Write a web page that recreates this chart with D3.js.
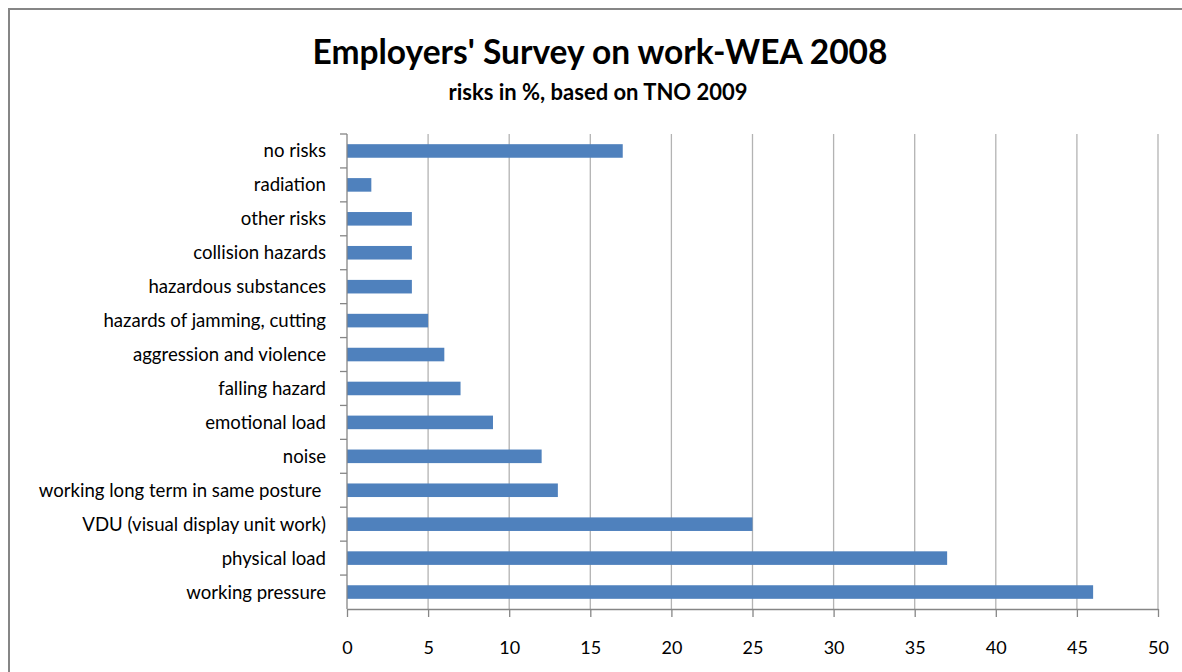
<!DOCTYPE html>
<html>
<head>
<meta charset="utf-8">
<script src="https://cdn.jsdelivr.net/npm/d3@7"></script>
<style>
  html, body { margin: 0; padding: 0; background: #fff; }
  svg { display: block; }
  text { font-family: Lato, "Open Sans", sans-serif; fill: #000; }
</style>
</head>
<body>
<svg id="chart" width="1182" height="672"></svg>
<script>
// Risk categories, listed top to bottom
const categories = [
  "no risks",
  "radiation",
  "other risks",
  "collision hazards",
  "hazardous substances",
  "hazards of jamming, cutting",
  "aggression and violence",
  "falling hazard",
  "emotional load",
  "noise",
  "working long term in same posture ",
  "VDU (visual display unit work)",
  "physical load",
  "working pressure"
];
// Share of employers reporting each risk (%)
const values = [17, 1.5, 4, 4, 4, 5, 6, 7, 9, 12, 13, 25, 37, 46];
const xTicks = [0, 5, 10, 15, 20, 25, 30, 35, 40, 45, 50];
const title = "Employers' Survey on work-WEA 2008";
const subtitle = "risks in %, based on TNO 2009";

const svg = d3.select("#chart");

// chart frame (extends past the right/bottom edge)
svg.append("rect")
  .attr("x", 9).attr("y", 9)
  .attr("width", 1300).attr("height", 800)
  .attr("fill", "#fff")
  .attr("stroke", "#868686").attr("stroke-width", 2);

const plot = { left: 347, right: 1158, top: 134, bottom: 609 };

const x = d3.scaleLinear().domain([0, 50]).range([plot.left, plot.right]);
const y = d3.scaleBand().domain(categories).range([plot.top, plot.bottom])
  .paddingInner(0.6).paddingOuter(0.3);
const yTicks = d3.scaleBand().domain(categories).range([plot.top, plot.bottom]);

// vertical gridlines
svg.append("g").selectAll("line").data(xTicks.slice(1)).join("line")
  .attr("x1", d => x(d)).attr("x2", d => x(d))
  .attr("y1", plot.top).attr("y2", plot.bottom)
  .attr("stroke", "#b3b3b3").attr("stroke-width", 1.3);

// bars
svg.append("g").selectAll("rect").data(values).join("rect")
  .attr("x", x(0))
  .attr("y", (d, i) => y(categories[i]))
  .attr("width", d => x(d) - x(0))
  .attr("height", y.bandwidth())
  .attr("fill", "#4F81BD");

// x axis
const xAxis = svg.append("g")
  .attr("transform", `translate(0,${plot.bottom})`)
  .call(d3.axisBottom(x).tickValues(xTicks).tickSize(8).tickPadding(24).tickSizeOuter(0));
xAxis.select(".domain").attr("stroke", "#868686").attr("stroke-width", 1.3);
xAxis.selectAll(".tick line").attr("stroke", "#868686").attr("stroke-width", 1.3);
xAxis.selectAll(".tick text")
  .attr("font-size", 18).attr("fill", "#000")
  .style("font-family", "Lato, 'Open Sans', sans-serif");

// y axis: tick marks at band boundaries, labels centred on bands
const yAxisG = svg.append("g");
yAxisG.append("line")
  .attr("x1", plot.left).attr("x2", plot.left)
  .attr("y1", plot.top).attr("y2", plot.bottom)
  .attr("stroke", "#868686").attr("stroke-width", 1.3);
const boundaries = categories.map(c => yTicks(c));
yAxisG.selectAll("line.tk").data(boundaries).join("line")
  .attr("class", "tk")
  .attr("x1", plot.left - 7).attr("x2", plot.left)
  .attr("y1", d => d).attr("y2", d => d)
  .attr("stroke", "#868686").attr("stroke-width", 1.3);
yAxisG.selectAll("text").data(categories).join("text")
  .attr("x", plot.left - 21)
  .attr("y", d => yTicks(d) + yTicks.bandwidth() / 2)
  .attr("dy", "0.35em")
  .attr("text-anchor", "end")
  .attr("font-size", 18.6)
  .attr("xml:space", "preserve")
  .style("white-space", "pre")
  .text(d => d);

// titles
svg.append("text")
  .attr("x", 600).attr("y", 64)
  .attr("text-anchor", "middle")
  .attr("font-size", 33.5).attr("font-weight", "bold")
  .text(title);
svg.append("text")
  .attr("x", 598).attr("y", 100)
  .attr("text-anchor", "middle")
  .attr("font-size", 22).attr("font-weight", "bold")
  .text(subtitle);
</script>
</body>
</html>
